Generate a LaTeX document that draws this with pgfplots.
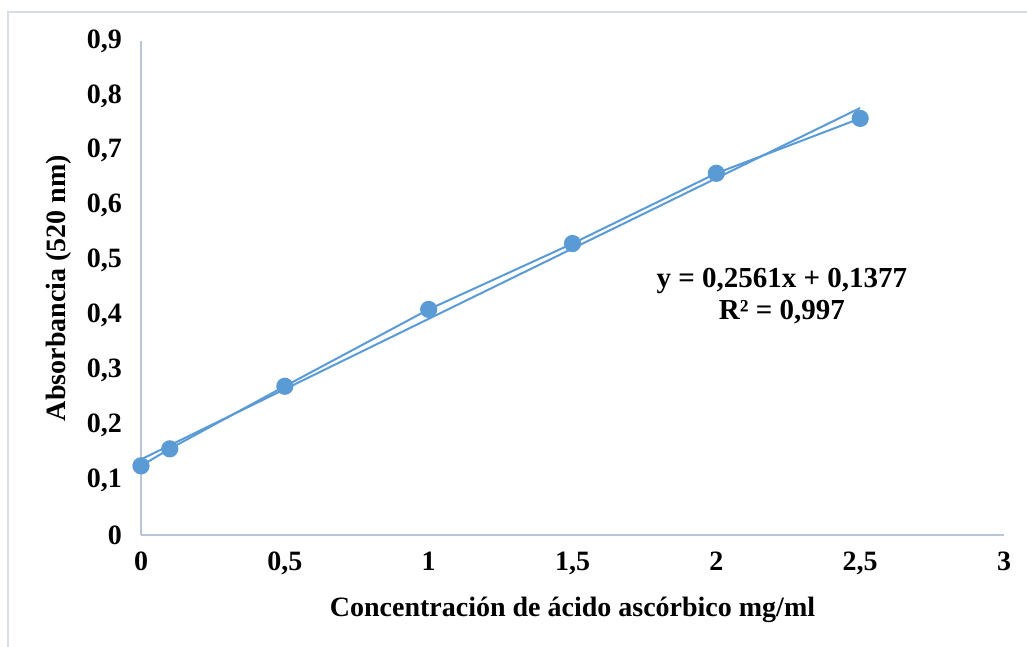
\documentclass[border=0pt]{standalone}
\usepackage{fontspec}
\setmainfont{Liberation Serif}
\usepackage{pgfplots}
\pgfplotsset{compat=1.18}
\definecolor{xlblue}{RGB}{91,155,213}
\definecolor{axgray}{RGB}{185,197,216}
\definecolor{bordergray}{RGB}{217,222,230}
\begin{document}
\begin{tikzpicture}
\useasboundingbox (0,0) rectangle (513.5pt,323.5pt);
\draw[bordergray, line width=1pt] (4pt,0pt) -- (4pt,317.5pt) -- (513.5pt,317.5pt);
\begin{axis}[
  at={(70.5pt,56pt)}, anchor=south west,
  scale only axis, width=431.5pt, height=247pt,
  xmin=0, xmax=3, ymin=0, ymax=0.9,
  xtick={0,0.5,...,3}, ytick={0,0.1,...,0.9},
  axis x line*=bottom, axis y line*=left,
  axis line style={-, draw=axgray, line width=0.8pt},
  major tick length=0pt,
  /pgf/number format/use comma,
  /pgf/number format/fixed,
  /pgf/number format/assume math mode=true,
  tick label style={font=\fontsize{14}{16}\selectfont\bfseries},
  yticklabel style={xshift=-6pt},
  xticklabel style={yshift=-5pt},
  xlabel={Concentración de ácido ascórbico mg/ml},
  ylabel={Absorbancia (520 nm)},
  label style={font=\fontsize{14}{16}\selectfont\bfseries},
  xlabel style={yshift=-4pt},
  ylabel style={yshift=1pt},
  clip=false,
]
\addplot[xlblue, line width=1pt, mark=*, mark size=3.8pt, mark options={fill=xlblue, draw=xlblue}] coordinates {
  (0,0.126) (0.1,0.157) (0.5,0.271) (1,0.411) (1.5,0.531) (2,0.659) (2.5,0.759)
};
\addplot[xlblue, line width=1pt] coordinates {(0,0.1377) (2.5,0.7780)};
\node[align=center, font=\fontsize{14.5}{16}\selectfont\bfseries] at (axis cs:2.228,0.436) {y = 0,2561x + 0,1377\\R² = 0,997};
\end{axis}
\end{tikzpicture}
\end{document}
